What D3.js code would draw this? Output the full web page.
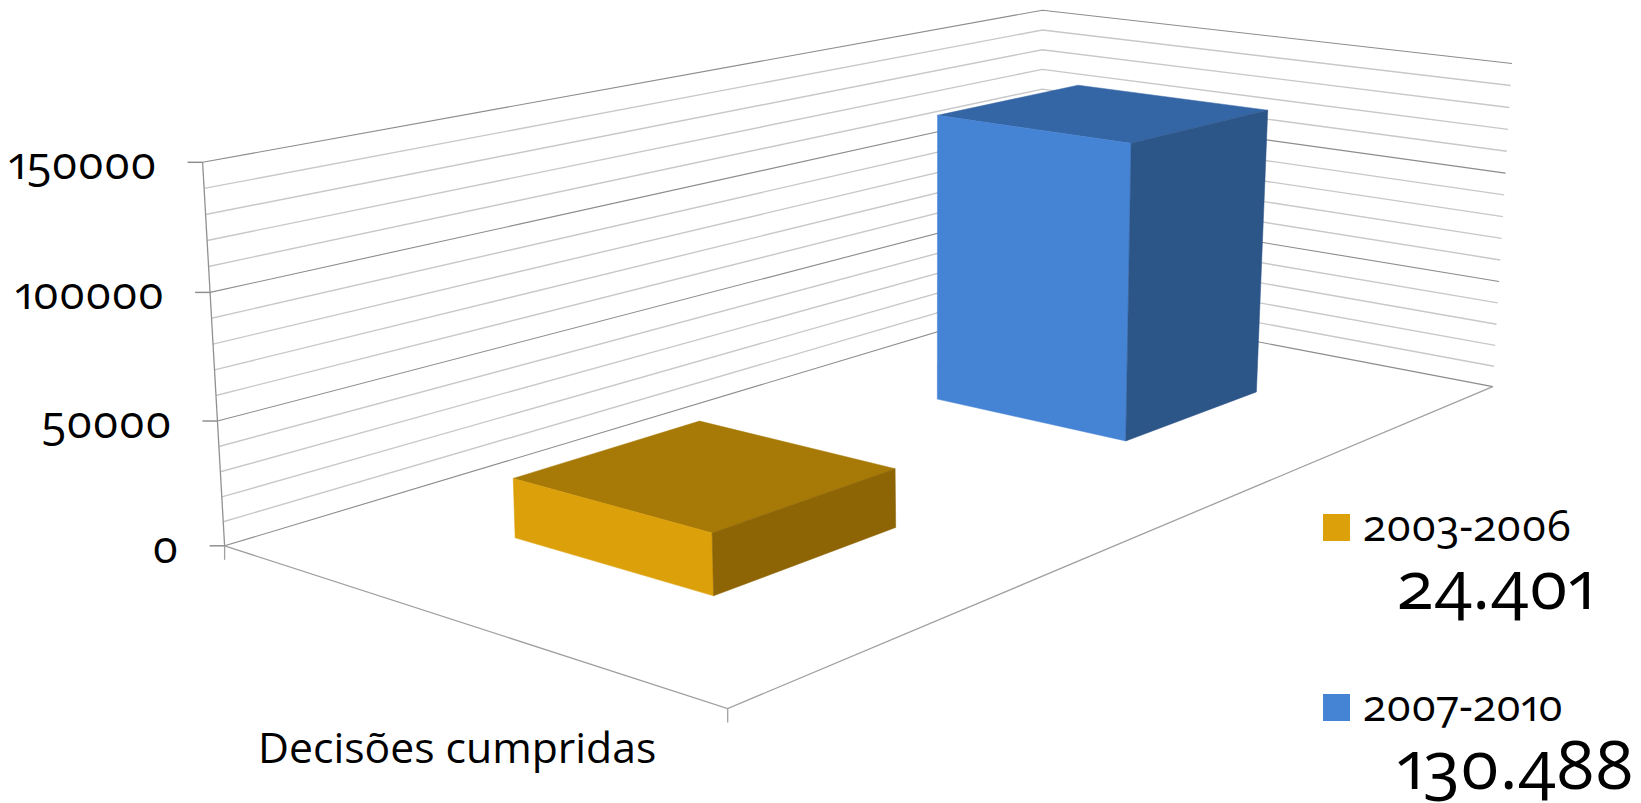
<!DOCTYPE html>
<html>
<head>
<meta charset="utf-8">
<script src="https://cdn.jsdelivr.net/npm/d3@7/dist/d3.min.js"></script>
<style>
html,body{margin:0;padding:0;background:#fff}
svg{display:block}
text{font-family:"Open Sans",sans-serif;font-variant-numeric:oldstyle-nums proportional-nums;font-feature-settings:"onum" 1,"pnum" 1;fill:#000}
</style>
</head>
<body>
<script>
const categories = ["Decisões cumpridas"];
const seriesNames = ["2003-2006", "2007-2010"];
const seriesValues = [24401, 130488];
const majorTicks = [0, 50000, 100000, 150000];
const seriesFaces = [
  {front:"#dca00a", top:"#a77a07", side:"#8e6505"},
  {front:"#4583d4", top:"#3465a4", side:"#2c5588"}
];

const W = 1641, H = 803;
const svg = d3.select("body").append("svg").attr("width", W).attr("height", H);

// Scene: corners of the floor and of the top plane, in page pixels
const floorPts = [[224.6,545.8],[1041.5,300.6],[1492.8,386.6],[727.7,708.6]];
const ceilPts  = [[202.6,162.3],[1042.5,10.2],[1512,63.5],[708.9,262.4]];
const barLean = 0.018, barShift = -2;

function quad(p){
  const [[x0,y0],[x1,y1],[x2,y2],[x3,y3]] = p;
  const sx=x0-x1+x2-x3, sy=y0-y1+y2-y3, dx1=x1-x2, dx2=x3-x2, dy1=y1-y2, dy2=y3-y2;
  const den=dx1*dy2-dx2*dy1;
  const g=(sx*dy2-dx2*sy)/den, h=(dx1*sy-sx*dy1)/den;
  const a=x1-x0+g*x1, b=x3-x0+h*x3, d=y1-y0+g*y1, e=y3-y0+h*y3;
  return (u,v)=>{const w=g*u+h*v+1; return [(a*u+b*v+x0)/w,(d*u+e*v+y0)/w];};
}
const floorAt = quad(floorPts), ceilAt = quad(ceilPts);

// Height scale (slightly non-linear because of the perspective)
const valueT = d3.scalePow().exponent(1.022).domain([0,150000]).range([0,1]);
const project = (u,v,val)=>{
  const f=floorAt(u,v), c=ceilAt(u,v), t=valueT(val);
  return [f[0]+(c[0]-f[0])*t, f[1]+(c[1]-f[1])*t];
};
const projectBar = (u,v,val)=>{
  const f=floorAt(u,v), p=project(u,v,val);
  return [p[0]+barShift+barLean*(f[1]-p[1]), p[1]];
};

const uScale = d3.scaleBand().domain(seriesNames).range([0,1]).paddingInner(0.6).paddingOuter(0.3);
const vScale = d3.scaleBand().domain(categories).range([0,1]).paddingInner(0).paddingOuter(0.75);

const line = d3.line();
const pathOf = pts => line(pts);

// Gridlines on the two walls
const minor = d3.range(0,150001,10000).filter(d=>!majorTicks.includes(d));
const wall = d=>[project(0,0,d),project(1,0,d),project(1,1,d)];
svg.append("g").selectAll("path").data(minor).join("path")
  .attr("d",d=>pathOf(wall(d))).attr("fill","none").attr("stroke","#c8c8c8").attr("stroke-width",1.4);
svg.append("g").selectAll("path").data(majorTicks).join("path")
  .attr("d",d=>pathOf(wall(d))).attr("fill","none").attr("stroke","#8c8c8c").attr("stroke-width",1.1);

// Axis lines
const axisStroke = "#a0a0a0";
svg.append("path").attr("d",pathOf([project(0,0,150000),project(0,0,0)]))
  .attr("fill","none").attr("stroke","#909090").attr("stroke-width",1.3);
svg.append("path").attr("d",pathOf([project(0,0,0),project(0,1,0),project(1,1,0)]))
  .attr("fill","none").attr("stroke",axisStroke).attr("stroke-width",1.3);
const cornerTicks=[project(0,0,0),project(0,1,0)];
svg.append("g").selectAll("path").data(cornerTicks).join("path")
  .attr("d",d=>pathOf([d,[d[0],d[1]+14]])).attr("stroke",axisStroke).attr("stroke-width",1.3);

// Value ticks and labels
const yAxis = svg.append("g").selectAll("g").data(majorTicks).join("g");
yAxis.append("path").attr("d",d=>{const p=project(0,0,d);return pathOf([[p[0]-15,p[1]],p]);})
  .attr("stroke","#909090").attr("stroke-width",1.5);
yAxis.append("text").text(d=>d)
  .attr("x",d=>project(0,0,d)[0]-46).attr("y",d=>project(0,0,d)[1]+17)
  .attr("text-anchor","end").attr("font-size",45);

// Bars
const bars = svg.append("g").selectAll("g").data(seriesValues).join("g");
bars.each(function(val,i){
  const name=seriesNames[i], c=seriesFaces[i], g=d3.select(this);
  const u0=uScale(name), u1=u0+uScale.bandwidth();
  const v0=vScale(categories[0]), v1=v0+vScale.bandwidth();
  const P=projectBar;
  const faces=[
    [c.top,[P(u0,v0,val),P(u1,v0,val),P(u1,v1,val),P(u0,v1,val)]],
    [c.front,[P(u0,v0,0),P(u0,v1,0),P(u0,v1,val),P(u0,v0,val)]],
    [c.side,[P(u0,v1,0),P(u1,v1,0),P(u1,v1,val),P(u0,v1,val)]]
  ];
  faces.forEach(([col,pts])=>g.append("path").attr("d",pathOf(pts)+"Z").attr("fill",col).attr("stroke",col).attr("stroke-width",0.5));
});

// Category label
svg.append("text").text(categories[0]).attr("x",258).attr("y",763).attr("font-size",42.7);

// Legend with values
const fmt = d3.formatLocale({decimal:",",thousands:".",grouping:[3],currency:["",""]}).format(",d");
const legendY = d3.scalePoint().domain(seriesNames).range([514,694]);
const leg = svg.append("g").selectAll("g").data(seriesNames).join("g");
leg.append("rect").attr("x",1323).attr("y",d=>legendY(d)).attr("width",27).attr("height",27)
  .attr("fill",(d,i)=>seriesFaces[i].front);
leg.append("text").text(d=>d).attr("x",1363).attr("y",d=>legendY(d)+27).attr("font-size",43);
leg.append("text").text((d,i)=>fmt(seriesValues[i])).attr("x",1397).attr("y",d=>legendY(d)+95).attr("font-size",68);
</script>
</body>
</html>
